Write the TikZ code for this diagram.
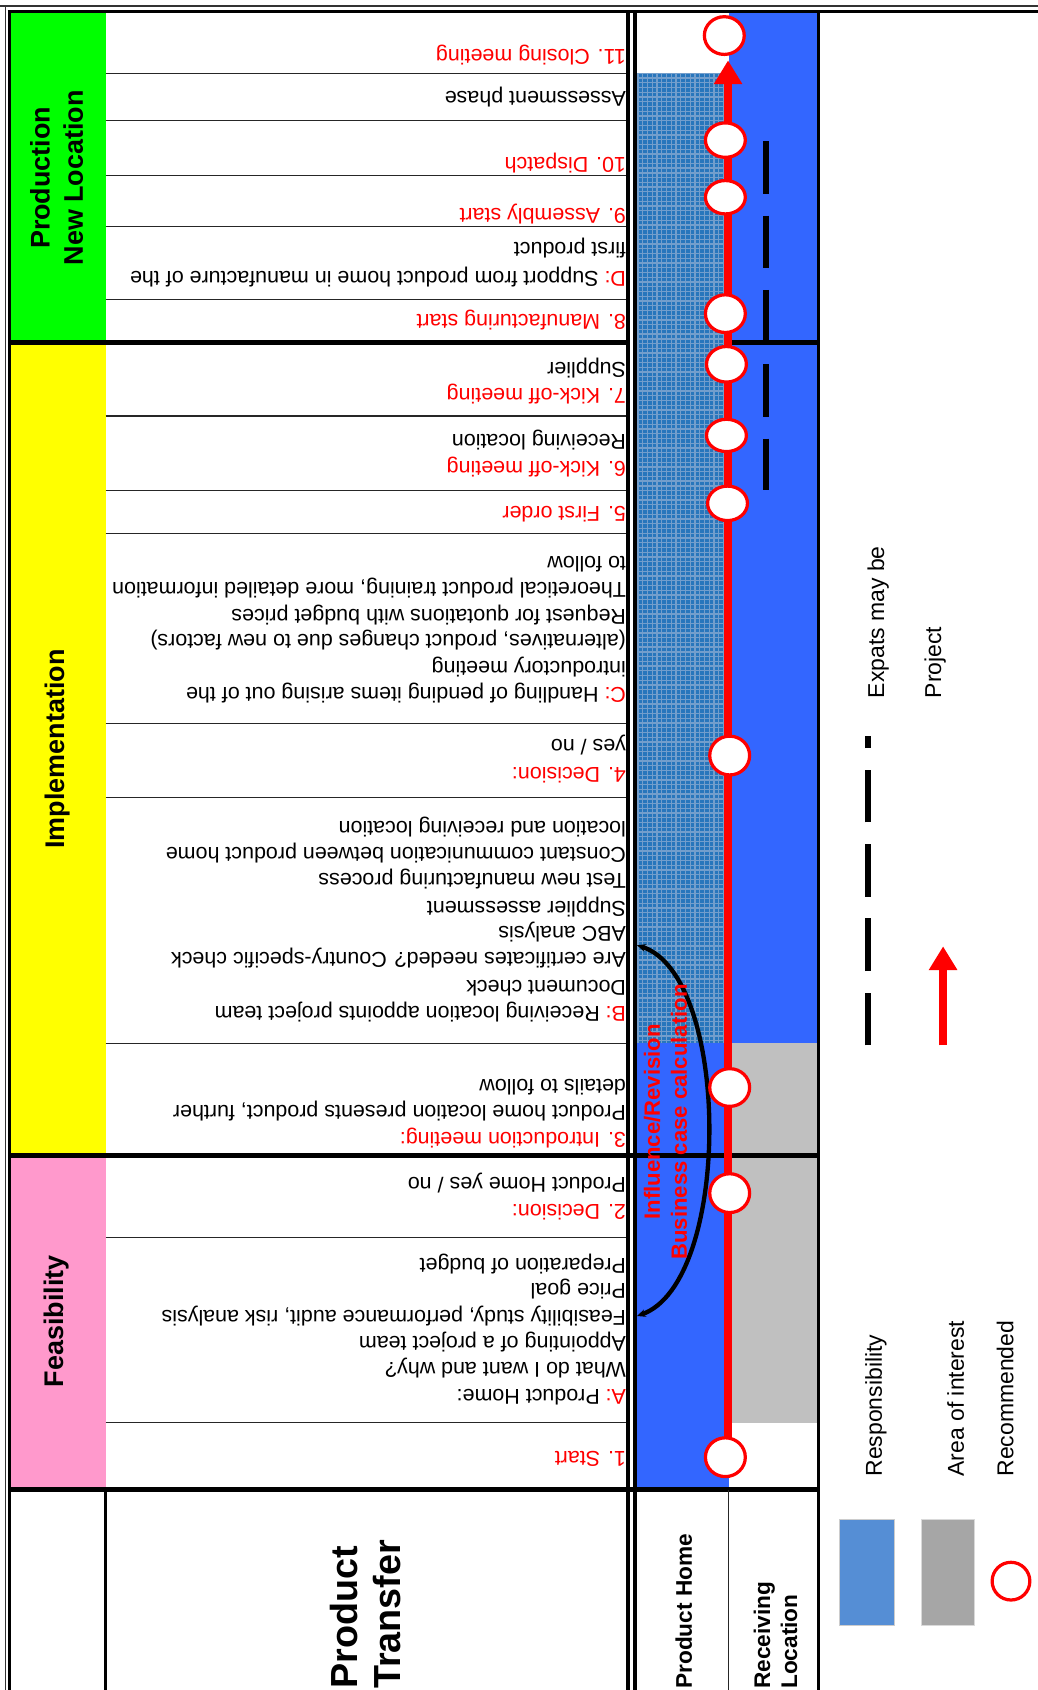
\documentclass[tikz,border=0pt]{standalone}
\usepackage{fontspec}
\setmainfont{Liberation Sans}
\usepackage{graphicx}
\usetikzlibrary{arrows.meta,shapes.geometric}
\definecolor{pgreen}{RGB}{0,255,0}
\definecolor{pyellow}{RGB}{255,255,0}
\definecolor{ppink}{RGB}{255,153,204}
\definecolor{rblue}{RGB}{51,102,255}
\definecolor{rgray}{RGB}{192,192,192}
\definecolor{hbase}{RGB}{40,118,188}
\definecolor{hline}{RGB}{115,158,204}
\definecolor{lblue}{RGB}{85,142,213}
\definecolor{lgray}{RGB}{166,166,166}
\definecolor{rred}{RGB}{255,0,0}
\tikzset{
 rowtxt/.style={rotate=180, anchor=west, inner sep=0pt, font=\fontsize{19.9}{24}\selectfont, text height=16pt, text depth=6pt},
 redtxt/.style={rowtxt, text=rred},
 phase/.style={rotate=90, inner sep=0pt, align=center, font=\bfseries\fontsize{25}{31}\selectfont},
 hdr/.style={rotate=90, anchor=west, inner sep=0pt, align=left, font=\bfseries\fontsize{21}{25}\selectfont},
 legtxt/.style={rotate=90, anchor=west, inner sep=0pt, font=\fontsize{21.3}{25}\selectfont, text height=15pt, text depth=4.5pt},
 thinrule/.style={line width=1.2pt, black!85},
 thickrule/.style={line width=4.5pt},
 stepc/.style={ellipse, draw=rred, line width=3pt, fill=white, minimum width=37pt, inner sep=0pt},
 redline/.style={draw=rred, line width=7.5pt},
 expats/.style={line width=5.5pt, dash pattern=on 49pt off 20pt},
}
\begin{document}
\begin{tikzpicture}[x=1pt,y=-1pt]
\useasboundingbox (0,0) rectangle (963,1568);
% fills
\fill[pgreen] (9.5,12) rectangle (98,318);
\fill[pyellow] (9.5,318) rectangle (98,1072);
\fill[ppink] (9.5,1072) rectangle (98,1382);
\fill[rblue] (676,11) rectangle (759,968);
\fill[hbase] (591,68) rectangle (676,968);
\begin{scope}
\clip (591,68) rectangle (676,968);
\foreach \k in {0,...,205} \draw[hline, line width=1.2pt] (591,{68+4.4*\k}) -- (676,{68+4.4*\k});
\foreach \k in {0,...,20} \draw[hline, line width=1.2pt] ({592+4.4*\k},68) -- ({592+4.4*\k},968);
\end{scope}
\fill[rblue] (591,968) rectangle (676,1382);
\fill[rgray] (676,968) rectangle (759,1320);

% row texts
\node[redtxt] (t11) at (581,51) {11. Closing meeting};
\node[rowtxt] (tas) at (581,89.7) {Assessment phase};
\node[redtxt] (t10) at (581,151.5) {10. Dispatch};
\node[redtxt] (t9) at (581,198) {9. Assembly start};
\node[rowtxt] (tD1) at (581,257) {{\color{rred}D:} Support from product home in manufacture of the};
\node[rowtxt] (tD2) at (581,230) {first product};
\node[redtxt] (t8) at (581,297) {8. Manufacturing start};
\node[redtxt] (t7a) at (581,365) {7. Kick-off meeting};
\node[rowtxt] (t7b) at (581,341.7) {Supplier};
\node[redtxt] (t6a) at (581,433) {6. Kick-off meeting};
\node[rowtxt] (t6b) at (581,408) {Receiving location};
\node[redtxt] (t5) at (581,474.7) {5. First order};
\node[rowtxt] (tC1) at (581,643.2) {{\color{rred}C:} Handling of pending items arising out of the};
\node[rowtxt] (tC2) at (581,618.5) {introductory meeting};
\node[rowtxt] (tC3) at (581,593.7) {(alternatives, product changes due to new factors)};
\node[rowtxt] (tC4) at (581,570.5) {Request for quotations with budget prices};
\node[rowtxt] (tC5) at (581,545.8) {Theoretical product training, more detailed information};
\node[rowtxt] (tC6) at (581,521) {to follow};
\node[redtxt] (t4a) at (581,717.4) {4. Decision:};
\node[rowtxt] (t4b) at (581,691) {yes / no};
\node[rowtxt] (tB1) at (581,938.5) {{\color{rred}B:} Receiving location appoints project team};
\node[rowtxt] (tB2) at (581,914.4) {Document check};
\node[rowtxt] (tB3) at (581,889) {Are certificates needed? Country-specific check};
\node[rowtxt] (tB4) at (581,864.3) {ABC analysis};
\node[rowtxt] (tB5) at (581,841) {Supplier assessment};
\node[rowtxt] (tB6) at (581,815.7) {Test new manufacturing process};
\node[rowtxt] (tB7) at (581,791.6) {Constant communication between product home};
\node[rowtxt] (tB8) at (581,766.9) {location and receiving location};
\node[redtxt] (t3a) at (581,1056) {3. Introduction meeting:};
\node[rowtxt] (t3b) at (581,1030.3) {Product home location presents product, further};
\node[rowtxt] (t3c) at (581,1006.5) {details to follow};
\node[redtxt] (t2a) at (581,1122.5) {2. Decision:};
\node[rowtxt] (t2b) at (581,1097.8) {Product Home yes / no};
\node[rowtxt] (tA1) at (581,1294) {{\color{rred}A:} Product Home:};
\node[rowtxt] (tA2) at (581,1269.3) {What do I want and why?};
\node[rowtxt] (tA3) at (581,1244.6) {Appointing of a project team};
\node[rowtxt] (tA4) at (581,1220.8) {Feasibility study, performance audit, risk analysis};
\node[rowtxt] (tA5) at (581,1196) {Price goal};
\node[rowtxt] (tA6) at (581,1172.6) {Preparation of budget};
\node[redtxt] (t1) at (581,1351.3) {1. Start};

% row rules
\foreach \yy in {68,112,163,210,278,386,455,495,671,740,968,1148,1320}
  \draw[thinrule] (98,\yy) -- (582,\yy);
% borders
\draw[line width=1.5pt, black!80] (0,5.5) -- (963,5.5);
\draw[line width=3pt] (7,10.5) -- (963,10.5);
\draw[line width=1.5pt, black!80] (5,5.5) -- (5,1568);
\draw[line width=3pt] (8.5,10.5) -- (8.5,1568);
\draw[thickrule] (8.5,318) -- (582,318);
\draw[thickrule] (676,318) -- (760,318);
\draw[thickrule] (8.5,1072) -- (760,1072);
\draw[thickrule] (8.5,1382) -- (760,1382);
\draw[line width=3.7pt] (582.8,10.5) -- (582.8,1568);
\draw[line width=3.7pt] (589,10.5) -- (589,1568);
\draw[line width=3.5pt] (759.5,10.5) -- (759.5,1568);
\draw[line width=3pt] (98,1382) -- (98,1568);
\draw[thinrule] (676,1382) -- (676,1568);

% expats dashes
\draw[expats] (711,131) -- (711,455);

% influence arc
\coordinate (cb) at (591,1221);
\coordinate (ct) at (591,877);
\draw[line width=4pt, {Stealth[length=8pt,width=7pt]}-{Stealth[length=8pt,width=7pt]}] (cb) .. controls (679,1190) and (679,905) .. (ct);
\node[rotate=90, text=rred, inner sep=0pt, font=\bfseries\fontsize{20.5}{24}\selectfont] (inf) at (605,1041) {Influence/Revision};
\node[rotate=90, text=rred, inner sep=0pt, font=\bfseries\fontsize{20.5}{24}\selectfont] (bus) at (630,1041) {Business case calculation};

% red project line and steps
\coordinate (p1) at (675.5,1352);
\coordinate (ptip) at (675.5,56);
\draw[redline, -{Triangle[length=22pt,width=25pt]}] (p1) -- (ptip);
\node[stepc, minimum height=35pt] (c11) at (672,33) {};
\node[stepc, minimum height=32pt] (c10) at (673,130) {};
\node[stepc, minimum height=31pt] (c9) at (673,183) {};
\node[stepc, minimum height=35pt] (c8) at (673,291) {};
\node[stepc, minimum height=33pt] (c7) at (674,338) {};
\node[stepc, minimum height=30pt] (c6) at (674,404) {};
\node[stepc, minimum height=32pt] (c5) at (675,467) {};
\node[stepc, minimum height=36pt] (c4) at (677,701) {};
\node[stepc, minimum height=35pt] (c3) at (677,1009) {};
\node[stepc, minimum height=36pt] (c2) at (677,1107) {};
\node[stepc, minimum height=36pt] (c1) at (673,1352) {};

% phase labels
\node[phase] (pn) at (52.5,165) {Production\\New Location};
\node[phase] (pi) at (53,695) {Implementation};
\node[phase] (pf) at (52,1226) {Feasibility};
% headers
\node[hdr, font=\bfseries\fontsize{35}{40}\selectfont] (ptr) at (339,1567) {Product\\Transfer};
\node[hdr] (phm) at (634.5,1567) {Product Home};
\node[hdr] (rlc) at (719.5,1567) {Receiving\\Location};

% legend
\draw[expats] (805,970) -- (805,683);
\node[legtxt] (le) at (815,648) {Expats may be};
\coordinate (la0) at (875,970);
\coordinate (la1) at (875,878);
\draw[redline, -{Triangle[length=22pt,width=25pt]}] (la0) -- (la1);
\node[legtxt] (lp) at (868,648) {Project};
\filldraw[fill=lblue, draw=black!20, line width=1pt] (779,1410) rectangle (830,1508);
\filldraw[fill=lgray, draw=black!15, line width=1pt] (855,1410) rectangle (904,1508);
\draw[rred, line width=3pt] (938,1467) circle[radius=17.5pt];
\node[legtxt] (lr) at (813,1370) {Responsibility};
\node[legtxt] (la) at (889,1370) {Area of interest};
\node[legtxt] (lc) at (935,1370) {Recommended};
\end{tikzpicture}
\end{document}
